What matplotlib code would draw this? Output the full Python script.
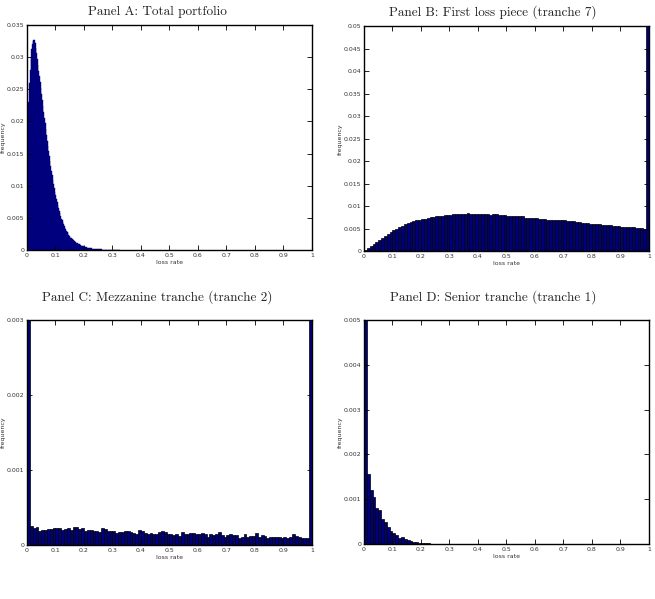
import numpy as np
import matplotlib
matplotlib.use('Agg')
import matplotlib.pyplot as plt
from matplotlib.ticker import FuncFormatter, MultipleLocator

# ---------------------------------------------------------------
# Donnees (frequences par classe de perte)
# ---------------------------------------------------------------

# Panel A : portefeuille total, classes de largeur 0.0025
bin_width_a = 0.0025
freq_total = [
    0.011, 0.018, 0.023, 0.026, 0.028, 0.030, 0.0312, 0.0320, 0.0325, 0.0327,
    0.0326, 0.0322, 0.0315, 0.0306, 0.0297, 0.0288, 0.0279, 0.0270, 0.0261, 0.0252,
    0.0243, 0.0234, 0.0224, 0.0215, 0.0206, 0.0197, 0.0188, 0.0179, 0.0170, 0.0162,
    0.0154, 0.0146, 0.0138, 0.0130, 0.0123, 0.0116, 0.0109, 0.0103, 0.0097, 0.0091,
    0.0085, 0.0080, 0.0075, 0.0070, 0.0065, 0.0061, 0.0057, 0.0053, 0.0049, 0.0046,
    0.0043, 0.0040, 0.0037, 0.0034, 0.0032, 0.0030, 0.0028, 0.0026, 0.0024, 0.0022,
    0.0021, 0.0019, 0.0018, 0.0017, 0.0016, 0.0015, 0.0014, 0.0013, 0.0012, 0.0011,
    0.00105, 0.00098, 0.00092, 0.00086, 0.00080, 0.00075, 0.00070, 0.00065, 0.00060, 0.00056,
    0.00052, 0.00048, 0.00045, 0.00042, 0.00039, 0.00036, 0.00033, 0.00031, 0.00029, 0.00027,
    0.00025, 0.00023, 0.00021, 0.00020, 0.00018, 0.00017, 0.00016, 0.00015, 0.00014, 0.00013,
    0.00012, 0.00011, 0.00010, 0.00009, 0.000085, 0.00008, 0.00007, 0.000065, 0.00006, 0.000055,
    0.00005, 0.000045, 0.00004, 0.000037, 0.000034, 0.00003, 0.000028, 0.000025, 0.000023, 0.00002,
    0.000018, 0.000016, 0.000015, 0.000013, 0.000012, 0.000011, 0.00001, 0.000009, 0.000008, 0.000007,
]

# Panels B, C, D : 100 classes de largeur 0.01
bin_width = 0.01
freq_tranche7 = [
    0.0002, 0.0006, 0.0011, 0.0015, 0.0020, 0.0024, 0.0029, 0.0033, 0.0038, 0.0042,
    0.0046, 0.0050, 0.0053, 0.0056, 0.0059, 0.0062, 0.0064, 0.0066, 0.0068, 0.0069,
    0.0071, 0.0072, 0.0074, 0.0075, 0.0076, 0.0078, 0.0077, 0.0079, 0.0080, 0.0081,
    0.0081, 0.0082, 0.0083, 0.0082, 0.0082, 0.0083, 0.0084, 0.0082, 0.0083, 0.0082,
    0.0083, 0.0082, 0.0083, 0.0083, 0.0081, 0.0082, 0.0083, 0.0081, 0.0081, 0.0080,
    0.0079, 0.0079, 0.0078, 0.0077, 0.0078, 0.0077, 0.0073, 0.0074, 0.0073, 0.0073,
    0.0073, 0.0072, 0.0072, 0.0071, 0.0070, 0.0070, 0.0069, 0.0070, 0.0068, 0.0068,
    0.0068, 0.0067, 0.0066, 0.0066, 0.0064, 0.0064, 0.0063, 0.0063, 0.0062, 0.0061,
    0.0061, 0.0060, 0.0060, 0.0058, 0.0058, 0.0057, 0.0057, 0.0056, 0.0056, 0.0055,
    0.0054, 0.0054, 0.0054, 0.0053, 0.0053, 0.0052, 0.0051, 0.0051, 0.0050, 0.36,
]

freq_tranche2 = [
    0.33, 0.00025, 0.00023, 0.00024, 0.00019, 0.00020, 0.000205, 0.00021, 0.00021, 0.00023,
    0.000225, 0.00022, 0.00020, 0.00021, 0.00022, 0.00020, 0.00024, 0.000235, 0.00021, 0.000225,
    0.00019, 0.00020, 0.000195, 0.000185, 0.00018, 0.000175, 0.00022, 0.00021, 0.00019, 0.00018,
    0.00019, 0.00016, 0.00017, 0.00017, 0.00019, 0.000185, 0.000175, 0.00016, 0.00015, 0.00020,
    0.00018, 0.00016, 0.00015, 0.000155, 0.00014, 0.00014, 0.00017, 0.000185, 0.00017, 0.00015,
    0.00014, 0.00013, 0.000145, 0.00012, 0.00017, 0.00015, 0.00015, 0.00016, 0.000165, 0.00015,
    0.00015, 0.000155, 0.00015, 0.00011, 0.00015, 0.000135, 0.00014, 0.000175, 0.00013, 0.00011,
    0.000135, 0.00014, 0.000135, 0.00013, 0.000095, 0.00011, 0.00014, 0.00011, 0.00012, 0.000125,
    0.000155, 0.00010, 0.000135, 0.00012, 0.00009, 0.00011, 0.00011, 0.00010, 0.000105, 0.000095,
    0.00011, 0.00009, 0.00011, 0.00015, 0.000125, 0.00010, 0.000095, 0.000095, 0.00009, 0.30,
]

freq_tranche1 = [
    0.99, 0.00156, 0.00120, 0.00105, 0.00081, 0.00077, 0.00056, 0.00050, 0.00038, 0.00028,
    0.00025, 0.00020, 0.00013, 0.00015, 0.00011, 0.00009, 0.00007, 0.00005, 0.00004, 0.00003,
    0.00003, 0.00002, 0.00002, 0.00001, 0.00001, 0.00001, 0.00001, 0.000005, 0.000005, 0.000005,
]

titles = [
    'Panel A: Total portfolio',
    'Panel B: First loss piece (tranche 7)',
    'Panel C: Mezzanine tranche (tranche 2)',
    'Panel D: Senior tranche (tranche 1)',
]

# ---------------------------------------------------------------
# Figure
# ---------------------------------------------------------------

fig = plt.figure(figsize=(6.55, 5.99), dpi=100)

# positions des axes (fractions de la figure)
positions = [
    [0.0412, 0.5826, 0.4351, 0.3756],
    [0.5557, 0.5810, 0.4351, 0.3748],
    [0.0412, 0.0902, 0.4351, 0.3756],
    [0.5557, 0.0918, 0.4351, 0.3740],
]
title_xy = [(0.240, 0.991), (0.753, 0.991), (0.240, 0.515), (0.753, 0.515)]

series = [
    (freq_total, bin_width_a, 0.035, 0.005),
    (freq_tranche7, bin_width, 0.05, 0.005),
    (freq_tranche2, bin_width, 0.003, 0.001),
    (freq_tranche1, bin_width, 0.005, 0.001),
]

fmt = FuncFormatter(lambda v, p: '%g' % round(v, 6))

for k, (vals, w, ymax, ystep) in enumerate(series):
    ax = fig.add_axes(positions[k])
    vals = np.asarray(vals)
    left = np.arange(len(vals)) * w
    if k == 0:
        ax.bar(left, vals, width=w, align='edge', color='#00008c',
               edgecolor='#000074', linewidth=0.3)
    else:
        ax.bar(left, vals, width=w, align='edge', color='#00007a',
               edgecolor='black', linewidth=0.5)

    ax.set_xlim(0, 1)
    ax.set_ylim(0, ymax)
    ax.xaxis.set_major_locator(MultipleLocator(0.1))
    ax.yaxis.set_major_locator(MultipleLocator(ystep))
    ax.xaxis.set_major_formatter(fmt)
    ax.yaxis.set_major_formatter(fmt)
    ax.tick_params(direction='in', top=True, right=True, length=3.5,
                   width=0.6, labelsize=4.5, pad=2, labelcolor='#333333')
    for sp in ax.spines.values():
        sp.set_linewidth(1.0)

    ax.set_xlabel('loss rate', fontsize=4.5, labelpad=1.5, color='#333333')
    ax.set_ylabel('frequency', fontsize=4.5, labelpad=0.5, color='#333333')

    fig.text(title_xy[k][0], title_xy[k][1], titles[k], ha='center', va='top',
             fontsize=9.5, family='cmr10', color='#222222')

fig.savefig('out.png', dpi=100)
